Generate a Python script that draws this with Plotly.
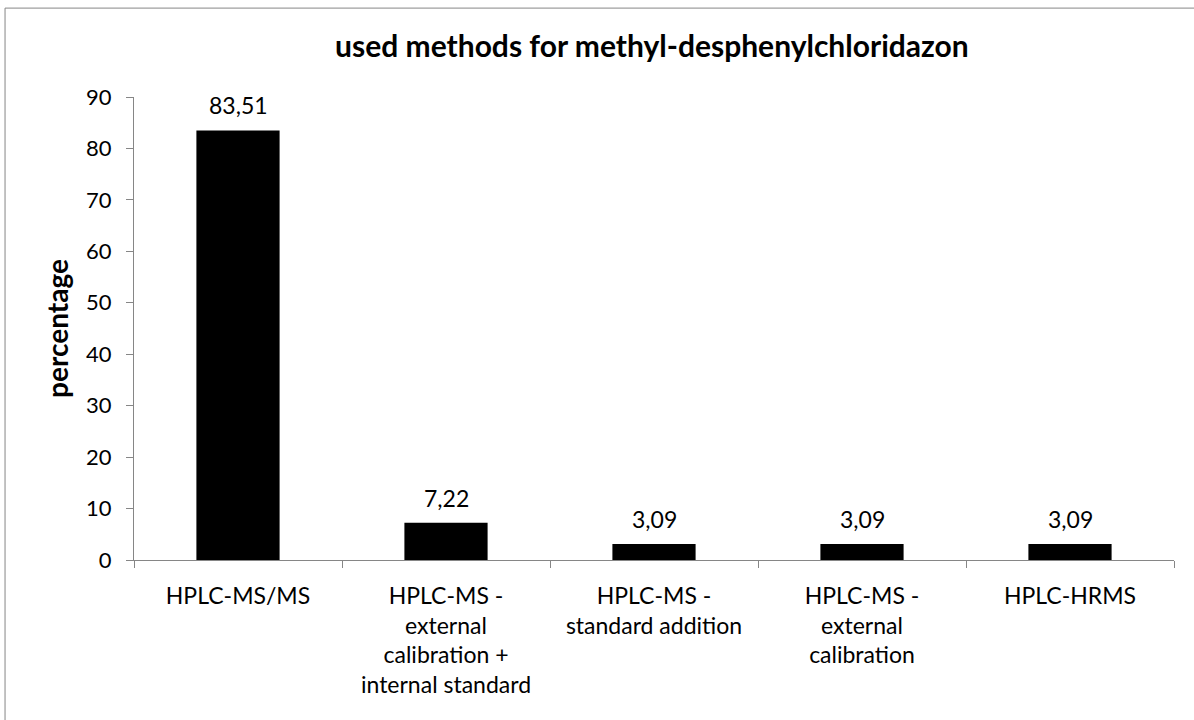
import plotly.graph_objects as go

# data
methods = [
    "HPLC-MS/MS",
    "HPLC-MS -<br>external<br>calibration +<br>internal standard",
    "HPLC-MS -<br>standard addition",
    "HPLC-MS -<br>external<br>calibration",
    "HPLC-HRMS",
]
percentages = [83.51, 7.22, 3.09, 3.09, 3.09]

font_family = "Lato, Open Sans, sans-serif"
axis_grey = "#868686"

fig = go.Figure()

fig.add_trace(
    go.Bar(
        x=methods,
        y=percentages,
        marker=dict(color="black", line=dict(width=0)),
        showlegend=False,
        hoverinfo="skip",
    )
)

# value labels sit a bit higher above the bars than plotly's own outside text
for m, p in zip(methods, percentages):
    fig.add_annotation(
        x=m,
        y=p,
        text=f"{p:.2f}".replace(".", ","),
        showarrow=False,
        yanchor="bottom",
        yshift=9,
        font=dict(size=23, color="black", family=font_family),
    )

fig.update_layout(
    width=1194,
    height=720,
    margin=dict(l=134, r=20, t=97, b=160, autoexpand=False),
    paper_bgcolor="white",
    plot_bgcolor="white",
    separators=",.",
    bargap=0.6,
    font=dict(family=font_family, size=23, color="black"),
    title=dict(
        text="<b>used methods for methyl-desphenylchloridazon</b>",
        x=0.546,
        xanchor="center",
        y=0.935,
        yref="container",
        yanchor="middle",
        font=dict(size=30, color="black", family=font_family),
    ),
    xaxis=dict(
        showline=True,
        linecolor=axis_grey,
        linewidth=1,
        ticks="outside",
        tickson="boundaries",
        ticklen=7,
        tickcolor=axis_grey,
        showgrid=False,
        ticklabelstandoff=15,
        tickfont=dict(size=23, color="black"),
    ),
    yaxis=dict(
        range=[0, 90],
        dtick=10,
        showline=True,
        linecolor=axis_grey,
        linewidth=1,
        ticks="outside",
        ticklen=7,
        tickcolor=axis_grey,
        showgrid=False,
        zeroline=False,
        ticklabelstandoff=10,
        tickfont=dict(size=22, color="black"),
        title=dict(text="<b>percentage</b>", font=dict(size=28, color="black"), standoff=9),
    ),
)

# chart frame (right and bottom edges run off the page)
fig.add_shape(
    type="rect",
    xref="paper",
    yref="paper",
    x0=-0.124,
    x1=1.1,
    y0=-0.5,
    y1=1.192,
    line=dict(color=axis_grey, width=1),
    fillcolor="rgba(0,0,0,0)",
    layer="below",
)

fig.write_html(
    "out.html",
    config={"displayModeBar": False},
    post_script="document.body.style.margin='0';",
)
